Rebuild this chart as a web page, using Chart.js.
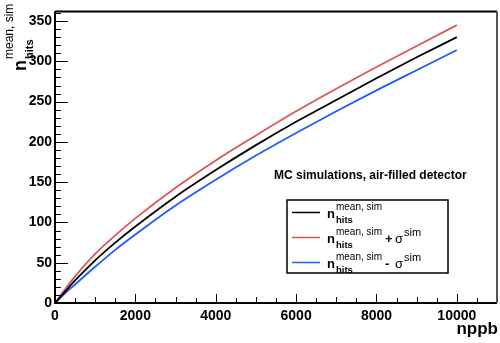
<!DOCTYPE html>
<html>
<head>
<meta charset="utf-8">
<script src="https://cdn.jsdelivr.net/npm/chart.js@4.4.0/dist/chart.umd.min.js"></script>
<style>
  html, body { margin: 0; padding: 0; background: #fff; }
  #wrap { width: 500px; height: 343px; }
</style>
</head>
<body>
<div id="wrap"><canvas id="hitsChart"></canvas></div>
<script>
// ---------------- DATA ----------------
const nppb = [0, 250, 500, 1000, 1500, 2000, 3000, 4000, 5000, 6000, 7000, 8000, 9000, 10000];
const hitsMean = [0, 14, 28, 53, 75, 95, 132, 165, 196, 225, 252, 279, 305, 330];
const hitsPlus = [0, 17, 33, 61, 84, 105, 143, 177, 208, 238, 266, 293, 319, 345];
const hitsMinus = [0, 12, 23, 45, 66, 85, 121, 153, 183, 211, 238, 264, 289, 314];

// tick labels
const xTicks = [0, 2000, 4000, 6000, 8000, 10000];
const yTicks = [0, 50, 100, 150, 200, 250, 300, 350];

const FONT = '"Liberation Sans", Arial, Helvetica, sans-serif';

// turns two arrays into {x, y} points for the linear x axis
function toPoints(xs, ys) {
    return xs.map((v, i) => ({ x: v, y: ys[i] }));
}

// draws a main symbol with a superscript and a subscript stacked after it
function drawScript(ctx, x, y, main, mainFont, sup, supFont, supDy, sub, subFont, subDy) {
    ctx.font = mainFont;
    ctx.fillText(main, x, y);
    const x2 = x + ctx.measureText(main).width + 1;
    ctx.font = supFont;
    ctx.fillText(sup, x2, y + supDy);
    let w = ctx.measureText(sup).width;
    if (sub) {
        ctx.font = subFont;
        ctx.fillText(sub, x2, y + subDy);
        w = Math.max(w, ctx.measureText(sub).width);
    }
    return x2 + w;
}

// ---------------- ROOT-like frame, ticks, texts and legend ----------------
const decor = {
    id: 'decor',
    afterDraw(chart) {
        const { ctx, chartArea: a, scales: { x, y } } = chart;
        ctx.save();
        ctx.strokeStyle = '#000';
        ctx.lineWidth = 1;

        // inward tick marks
        ctx.beginPath();
        for (let v = 0; v <= 360; v += 10) {
            const py = Math.round(y.getPixelForValue(v)) + 0.5;
            const len = v % 50 === 0 ? 13 : 6;
            ctx.moveTo(a.left, py);
            ctx.lineTo(a.left + len, py);
        }
        for (let v = 0; v <= 10500; v += 500) {
            const px = Math.round(x.getPixelForValue(v)) + 0.5;
            const len = v % 2000 === 0 ? 9 : (v % 1000 === 0 ? 6 : 5);
            ctx.moveTo(px, a.bottom);
            ctx.lineTo(px, a.bottom - len);
        }
        ctx.stroke();

        // frame
        ctx.lineWidth = 2;
        ctx.beginPath();
        ctx.moveTo(a.left, a.top);
        ctx.lineTo(a.right, a.top);
        ctx.moveTo(a.left, a.top);
        ctx.lineTo(a.left, a.bottom);
        ctx.lineTo(a.right, a.bottom);
        ctx.stroke();
        ctx.strokeStyle = '#555';
        ctx.beginPath();
        ctx.moveTo(a.right, a.top);
        ctx.lineTo(a.right, a.bottom);
        ctx.stroke();

        ctx.fillStyle = '#000';
        ctx.textBaseline = 'alphabetic';

        // x axis title
        ctx.font = 'bold 17px ' + FONT;
        ctx.textAlign = 'right';
        ctx.fillText('nppb', 498, 334);
        ctx.textAlign = 'left';

        // y axis title, rotated
        ctx.save();
        ctx.translate(26, 71);
        ctx.rotate(-Math.PI / 2);
        drawScript(ctx, 0, 0, 'n', 'bold 18px ' + FONT,
            'mean, sim', '12px ' + FONT, -13, 'hits', 'bold 11px ' + FONT, 7);
        ctx.restore();

        // annotation
        ctx.font = 'bold 12px ' + FONT;
        ctx.fillText('MC simulations, air-filled detector', 274, 179);

        // legend box
        const lx = 287, ly = 200, lw = 161, lh = 73;
        ctx.fillStyle = '#fff';
        ctx.fillRect(lx, ly, lw, lh);
        ctx.strokeStyle = '#000';
        ctx.lineWidth = 1.5;
        ctx.strokeRect(lx, ly, lw, lh);

        const signs = ['', '+', '-'];
        chart.data.datasets.forEach((ds, i) => {
            const ry = 212 + i * 25;
            ctx.strokeStyle = ds.borderColor;
            ctx.lineWidth = 1.5;
            ctx.beginPath();
            ctx.moveTo(292, ry + 0.5);
            ctx.lineTo(320, ry + 0.5);
            ctx.stroke();

            ctx.fillStyle = '#000';
            const base = ry + 6;
            drawScript(ctx, 327, base, 'n', 'bold 13px ' + FONT,
                'mean, sim', '10px ' + FONT, -8, 'hits', 'bold 9.5px ' + FONT, 5);
            if (signs[i]) {
                ctx.font = 'bold 13px ' + FONT;
                ctx.fillText(signs[i], 385, base);
                drawScript(ctx, 395, base, '\u03c3', '13px ' + FONT,
                    'sim', '11px ' + FONT, -7, '', '', 0);
            }
        });

        ctx.restore();
    }
};

// ---------------- LINE CHART ----------------
const ctx = document.getElementById('hitsChart');

const tickFont = { family: FONT, size: 14, weight: 'bold' };

new Chart(ctx, {
    type: 'line',
    data: {
        datasets: [
            { label: 'mean', data: toPoints(nppb, hitsMean), borderColor: '#000000' },
            { label: 'mean + sigma', data: toPoints(nppb, hitsPlus), borderColor: '#de5555' },
            { label: 'mean - sigma', data: toPoints(nppb, hitsMinus), borderColor: '#1f5cff' }
        ].map(ds => Object.assign(ds, {
            borderWidth: 1.8,
            pointRadius: 0,
            fill: false,
            cubicInterpolationMode: 'monotone'
        }))
    },
    options: {
        responsive: true,
        maintainAspectRatio: false,
        animation: false,
        layout: { padding: { left: 0, right: 3, top: 3, bottom: 0 } },
        plugins: {
            legend: { display: false },
            tooltip: { enabled: false }
        },
        scales: {
            x: {
                type: 'linear',
                min: 0,
                max: 11000,
                grid: { display: false, drawTicks: false },
                border: { display: false },
                ticks: {
                    autoSkip: false,
                    maxRotation: 0,
                    padding: 5,
                    color: '#000',
                    font: tickFont,
                    callback: v => String(v)
                },
                afterBuildTicks: s => { s.ticks = xTicks.map(v => ({ value: v })); },
                afterFit: s => { s.height = 40; }
            },
            y: {
                type: 'linear',
                min: 0,
                max: 362,
                grid: { display: false, drawTicks: false },
                border: { display: false },
                ticks: {
                    autoSkip: false,
                    padding: 3,
                    color: '#000',
                    font: tickFont,
                    callback: v => String(v)
                },
                afterBuildTicks: s => { s.ticks = yTicks.map(v => ({ value: v })); },
                afterFit: s => { s.width = 55; }
            }
        }
    },
    plugins: [decor]
});
</script>
</body>
</html>
